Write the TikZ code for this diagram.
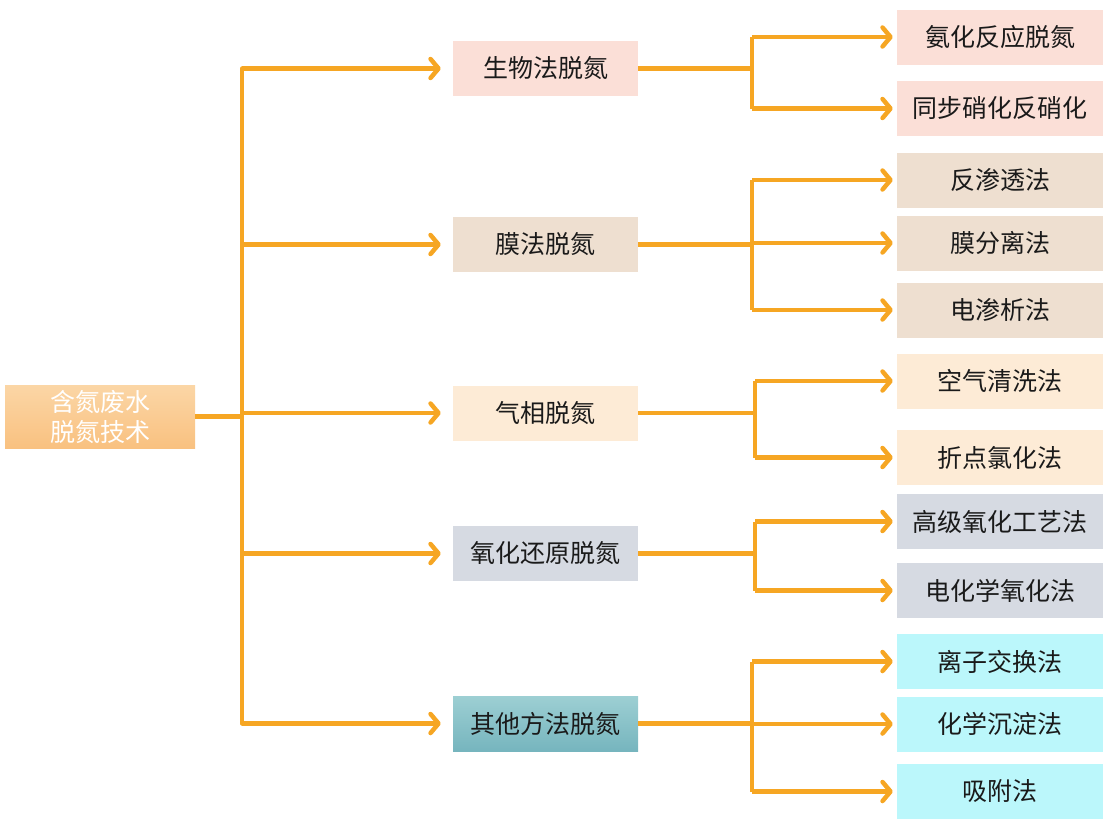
\documentclass[tikz,border=0pt]{standalone}
\usepackage{fontspec}
\newfontfamily\cjk{Noto Sans CJK SC}
\usetikzlibrary{arrows.meta}
\definecolor{lineor}{HTML}{F6A623}
\definecolor{cpink}{HTML}{FBDFD7}
\definecolor{cbeige}{HTML}{EEDFD0}
\definecolor{ccream}{HTML}{FDEBD6}
\definecolor{cgray}{HTML}{D6DAE2}
\definecolor{ccyan}{HTML}{BBF7FB}
\definecolor{ctxt}{HTML}{1A1A1A}
\tikzset{
  x=1pt,y=-1pt,
  box/.style={inner sep=0pt, font=\cjk\fontsize{25}{30}\selectfont, text=ctxt, align=center},
  rootbox/.style={box, minimum width=190pt, minimum height=63pt, text=white},
  midbox/.style={box, minimum width=185pt, minimum height=55pt},
  leafbox/.style={box, minimum width=206pt, minimum height=55pt},
  conn/.style={draw=lineor, line width=4.5pt},
  arr/.style={conn, -{Straight Barb[length=8pt,width=19pt,round]}, shorten >=4pt},
}
\begin{document}
\begin{tikzpicture}
\useasboundingbox (0,0) rectangle (1114,825);
% root
\node[rootbox, top color={rgb,255:red,251;green,214;blue,166}, bottom color={rgb,255:red,249;green,193;blue,128}] (root) at (100,416.5) {含氮废水\\脱氮技术};
% level 2
\node[midbox, fill=cpink] (n1) at (545.5,68.5) {生物法脱氮};
\node[midbox, fill=cbeige] (n2) at (545.5,244.5) {膜法脱氮};
\node[midbox, fill=ccream] (n3) at (545.5,413) {气相脱氮};
\node[midbox, fill=cgray] (n4) at (545.5,553.5) {氧化还原脱氮};
\node[midbox, top color={rgb,255:red,157;green,207;blue,211}, bottom color={rgb,255:red,118;green,181;blue,190}] (n5) at (545.5,723.5) {其他方法脱氮};
% leaves
\node[leafbox, fill=cpink] (l11) at (1000,37) {氨化反应脱氮};
\node[leafbox, fill=cpink] (l12) at (1000,108.5) {同步硝化反硝化};
\node[leafbox, fill=cbeige] (l21) at (1000,180) {反渗透法};
\node[leafbox, fill=cbeige] (l22) at (1000,243) {膜分离法};
\node[leafbox, fill=cbeige] (l23) at (1000,310) {电渗析法};
\node[leafbox, fill=ccream] (l31) at (1000,381) {空气清洗法};
\node[leafbox, fill=ccream] (l32) at (1000,457.5) {折点氯化法};
\node[leafbox, fill=cgray] (l41) at (1000,521.5) {高级氧化工艺法};
\node[leafbox, fill=cgray] (l42) at (1000,590.5) {电化学氧化法};
\node[leafbox, fill=ccyan] (l51) at (1000,661.5) {离子交换法};
\node[leafbox, fill=ccyan] (l52) at (1000,724) {化学沉淀法};
\node[leafbox, fill=ccyan] (l53) at (1000,791.5) {吸附法};
% trunk
\coordinate (tx) at (242,0);
\coordinate (t1) at (tx |- n1);
\coordinate (t3) at (tx |- root);
\coordinate (t5) at (tx |- n5);
\draw[conn] (root.east) -- (t3);
\draw[conn, line cap=round] (t1) -- (t5);
\foreach \n in {n1,n2,n3,n4,n5}{
  \draw[arr, shorten >=12pt] (tx |- \n) -- (\n.west);
}
% group branches
\coordinate (bx) at (752,0);
\coordinate (cx) at (755,0);
\draw[conn] (n1.east) -- (bx |- n1);
\draw[conn] (bx |- l11) -- (bx |- l12);
\foreach \l in {l11,l12}{\draw[arr] (bx |- \l) -- (\l.west);}
\draw[conn] (n2.east) -- (bx |- n2);
\draw[conn] (bx |- l21) -- (bx |- l23);
\foreach \l in {l21,l22,l23}{\draw[arr] (bx |- \l) -- (\l.west);}
\draw[conn] (n3.east) -- (cx |- n3);
\draw[conn] (cx |- l31) -- (cx |- l32);
\foreach \l in {l31,l32}{\draw[arr] (cx |- \l) -- (\l.west);}
\draw[conn] (n4.east) -- (cx |- n4);
\draw[conn] (cx |- l41) -- (cx |- l42);
\foreach \l in {l41,l42}{\draw[arr] (cx |- \l) -- (\l.west);}
\draw[conn] (n5.east) -- (bx |- n5);
\draw[conn] (bx |- l51) -- (bx |- l53);
\foreach \l in {l51,l52,l53}{\draw[arr] (bx |- \l) -- (\l.west);}
\end{tikzpicture}
\end{document}
